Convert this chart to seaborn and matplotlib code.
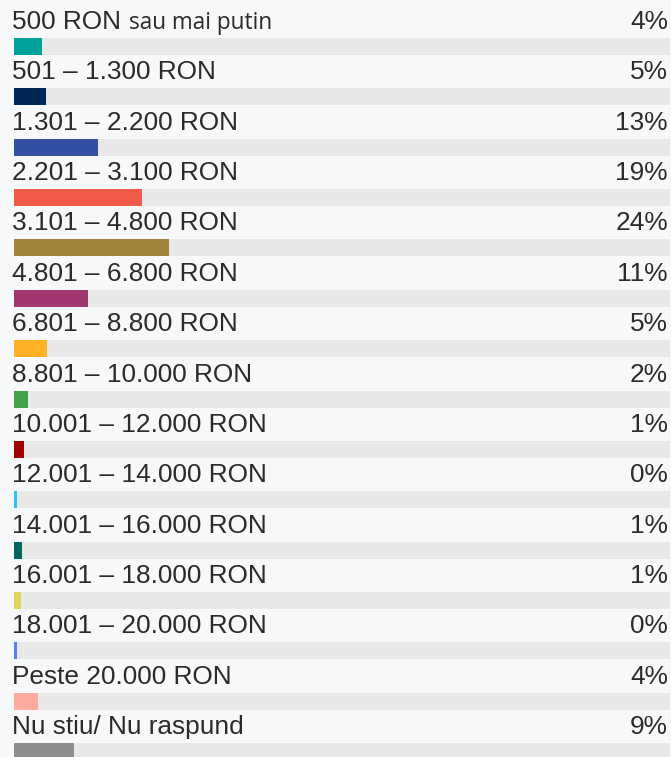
import pandas as pd
import matplotlib.pyplot as plt
import seaborn as sns

# Chart data
categories = [
    "500 RON", "501 – 1.300 RON", "1.301 – 2.200 RON", "2.201 – 3.100 RON",
    "3.101 – 4.800 RON", "4.801 – 6.800 RON", "6.801 – 8.800 RON",
    "8.801 – 10.000 RON", "10.001 – 12.000 RON", "12.001 – 14.000 RON",
    "14.001 – 16.000 RON", "16.001 – 18.000 RON", "18.001 – 20.000 RON",
    "Peste 20.000 RON", "Nu stiu/ Nu raspund",
]
values = [4.3, 4.9, 12.8, 19.5, 23.6, 11.3, 5.0, 2.1, 1.5, 0.45, 1.2, 1.1, 0.45, 3.7, 9.1]
pct_labels = ["4%", "5%", "13%", "19%", "24%", "11%", "5%", "2%", "1%", "0%",
              "1%", "1%", "0%", "4%", "9%"]
colors = ["#00a19a", "#002855", "#3450a2", "#f05a4a", "#a0843a", "#a0376e",
          "#ffb128", "#3fa548", "#a00000", "#27c4f4", "#006660", "#e0d45a",
          "#5b7fef", "#ffaa9f", "#8e8e8e"]
suffix = "sau mai putin"

df = pd.DataFrame({"cat": categories, "value": values, "track": [100] * len(categories)})

sns.set_theme(style="white")
plt.rcParams['font.family'] = ['Liberation Sans', 'DejaVu Sans']

W, H = 671, 757
fig = plt.figure(figsize=(W / 100, H / 100), dpi=100)
fig.patch.set_facecolor("#f7f8fa")
ax = fig.add_axes([0, 0, 1, 1])
ax.set_facecolor("#f7f8fa")

# pixel geometry
px_per_unit = 656 / 100
x0_px = 14
pitch = 50.36
first_center = 46.5
bar_h = 17 / pitch

# grey tracks then coloured bars
sns.barplot(data=df, x="track", y="cat", color="#e8e8e8", width=bar_h,
            saturation=1, linewidth=0, orient="h", ax=ax)
sns.barplot(data=df, x="value", y="cat", hue="cat", palette=colors, width=bar_h,
            saturation=1, linewidth=0, orient="h", legend=False, ax=ax)

ax.set_xlim(-x0_px / px_per_unit, 100 + (W - x0_px - 656) / px_per_unit)
ax.set_ylim((H - first_center) / pitch, -first_center / pitch)
ax.axis("off")

text_col = "#2b2b2b"
fs = 18.9
label_x = (12 - x0_px) / px_per_unit
pct_x = (668 - x0_px) / px_per_unit
for i, (cat, pct) in enumerate(zip(categories, pct_labels)):
    y = i - (8.5 + 9) / pitch
    ax.text(label_x, y, cat, fontsize=fs, color=text_col, ha="left", va="baseline")
    ax.text(pct_x, y, pct, fontsize=fs, color=text_col, ha="right", va="baseline")

# smaller suffix on the first label
ax.text((129 - x0_px) / px_per_unit, -(8.5 + 9) / pitch, suffix, fontsize=16.3,
        color=text_col, ha="left", va="baseline", family=["Open Sans", "DejaVu Sans"])

fig.savefig("out.png", dpi=100, facecolor=fig.get_facecolor())
